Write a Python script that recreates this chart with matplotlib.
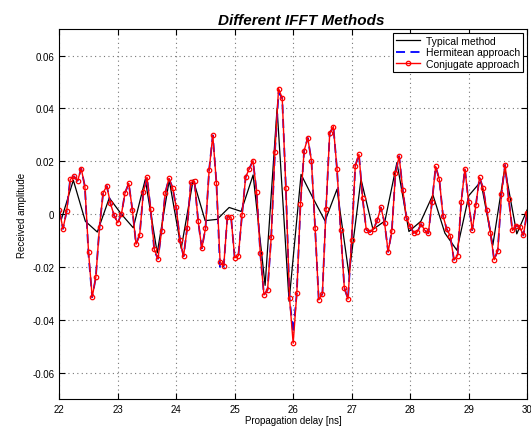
import numpy as np
import matplotlib
matplotlib.use('Agg')
import matplotlib.pyplot as plt
from matplotlib.ticker import MultipleLocator

plt.rcParams['font.family'] = ['Liberation Sans', 'DejaVu Sans']

# conjugate approach, sampled every 1/16 ns from 22 ns
conj_t0, conj_dt = 22.0, 1.0 / 16
conj = [0.0015, -0.0056, 0.001, 0.0131, 0.0143, 0.0126, 0.0172, 0.0104,
        -0.0144, -0.0315, -0.0238, -0.0048, 0.0081, 0.0106, 0.004, -0.0005,
        -0.0033, 0.0, 0.0081, 0.0116, 0.0016, -0.0114, -0.0078, 0.0083,
        0.0139, 0.0019, -0.0134, -0.0169, -0.0063, 0.008, 0.0135, 0.01,
        0.0025, -0.0097, -0.016, -0.0052, 0.012, 0.0124, -0.0027, -0.013,
        -0.0054, 0.0166, 0.0298, 0.0118, -0.0181, -0.0196, -0.001, -0.0011,
        -0.0166, -0.0158, -0.0003, 0.014, 0.0172, 0.0202, 0.0085, -0.0148,
        -0.0306, -0.0287, -0.0085, 0.0233, 0.0475, 0.0439, 0.01, -0.0317,
        -0.0489, -0.0298, 0.0038, 0.024, 0.0288, 0.0202, -0.0052, -0.0325,
        -0.0302, 0.0021, 0.0306, 0.0331, 0.0169, -0.0062, -0.0279, -0.0322,
        -0.0097, 0.0183, 0.0226, 0.0061, -0.0059, -0.0068, -0.0057, -0.0024,
        0.0025, -0.0032, -0.0143, -0.0064, 0.0154, 0.0219, 0.0091, -0.0015,
        -0.0046, -0.0072, -0.0067, -0.0038, -0.0061, -0.0073, 0.0047, 0.018,
        0.0131, -0.0006, -0.0056, -0.0083, -0.0173, -0.0157, 0.0047, 0.0171,
        0.0047, -0.0061, 0.0033, 0.0139, 0.0097, 0.0014, -0.0071, -0.0173,
        -0.0138, 0.0077, 0.0186, 0.0056, -0.0062, -0.0044, -0.0048, -0.0081,
        0.0005]

# hermitean approach, same sampling
herm = [0.0015, -0.0056, 0.001, 0.0135, 0.0143, 0.0126, 0.0172, 0.0104,
        -0.0155, -0.0315, -0.0238, -0.0048, 0.0081, 0.0106, 0.004, -0.0005,
        -0.0033, 0.0, 0.0081, 0.0116, 0.0016, -0.0114, -0.0078, 0.0083,
        0.0139, 0.0019, -0.014, -0.0169, -0.0063, 0.008, 0.0135, 0.01,
        0.0025, -0.0097, -0.016, -0.0052, 0.012, 0.0124, -0.0027, -0.013,
        -0.0054, 0.0166, 0.0298, 0.0118, -0.021, -0.0196, -0.001, -0.0011,
        -0.0166, -0.0158, -0.0003, 0.014, 0.0172, 0.0202, 0.0085, -0.0148,
        -0.0306, -0.0287, -0.0085, 0.0233, 0.046, 0.0439, 0.01, -0.0317,
        -0.045, -0.0298, 0.0038, 0.024, 0.0288, 0.0202, -0.0052, -0.0325,
        -0.0302, 0.0021, 0.0306, 0.0331, 0.0169, -0.0062, -0.0279, -0.0322,
        -0.0097, 0.0183, 0.0226, 0.0061, -0.0059, -0.0068, -0.0057, -0.0024,
        0.0025, -0.0032, -0.0143, -0.0064, 0.0154, 0.0219, 0.0091, -0.0015,
        -0.0046, -0.0072, -0.0067, -0.0038, -0.0061, -0.0073, 0.0047, 0.018,
        0.0131, -0.0006, -0.0056, -0.0083, -0.0173, -0.0157, 0.0047, 0.0171,
        0.0047, -0.0061, 0.0033, 0.0139, 0.0097, 0.0014, -0.0071, -0.0173,
        -0.0138, 0.0077, 0.0186, 0.0056, -0.0062, -0.0044, -0.0048, -0.0081,
        0.0005]

# typical method, coarser sampling
typ_t0, typ_dt = 22.035, 0.205
typical = [-0.002, 0.0128, -0.0027, -0.0068, 0.0061, 0.0, -0.0052, 0.0131,
           -0.0147, 0.0128, -0.013, 0.013, -0.0025, -0.002, 0.0025, 0.001,
           0.0148, -0.027, 0.040, -0.033, 0.015, 0.006, -0.0026, 0.0094,
           -0.023, 0.0132, -0.0058, -0.0026, 0.0195, -0.0066, -0.0027, 0.0073,
           -0.0072, -0.0137, 0.007, 0.0123, -0.0118, 0.0174, -0.0075, 0.003]

t_conj = conj_t0 + conj_dt * np.arange(len(conj))
t_typ = typ_t0 + typ_dt * np.arange(len(typical))

fig = plt.figure(figsize=(5.31, 4.27), dpi=100)
ax = fig.add_axes([0.1117, 0.0632, 0.8808, 0.8663])

ax.plot(t_typ, typical, color='black', lw=0.9, label='Typical method')
ax.plot(t_conj, herm, color='blue', lw=1.3, ls=(0, (5, 3)), label='Hermitean approach')
ax.plot(t_conj, conj, color='red', lw=1.0, marker='o', ms=3.2, mfc='none',
        mew=0.9, label='Conjugate approach')

ax.set_xlim(22, 30)
ax.set_ylim(-0.07, 0.07)
ax.xaxis.set_major_locator(MultipleLocator(1))
ax.set_yticks([-0.06, -0.04, -0.02, 0, 0.02, 0.04, 0.06])
ax.set_yticklabels(['-0.06', '-0.04', '-0.02', '0', '0.02', '0.04', '0.06'])
ax.tick_params(direction='in', length=4, labelsize=7, top=True, right=True)
ax.grid(True, ls=(0, (1, 3)), color='#777777', lw=0.8)

ax.set_title('Different IFFT Methods', fontsize=11, fontweight='bold',
             fontstyle='italic', pad=4, x=0.517)
ax.set_xlabel('Propagation delay [ns]', fontsize=7, labelpad=1)
ax.set_ylabel('Received amplitude', fontsize=7, labelpad=4)

leg = ax.legend(loc='upper right', fontsize=7.5, fancybox=False, framealpha=1,
                edgecolor='black', borderpad=0.3, labelspacing=0.15,
                handlelength=2.3, handletextpad=0.6, borderaxespad=0.35)
leg.get_frame().set_linewidth(0.8)

fig.savefig('out.png', dpi=100)
